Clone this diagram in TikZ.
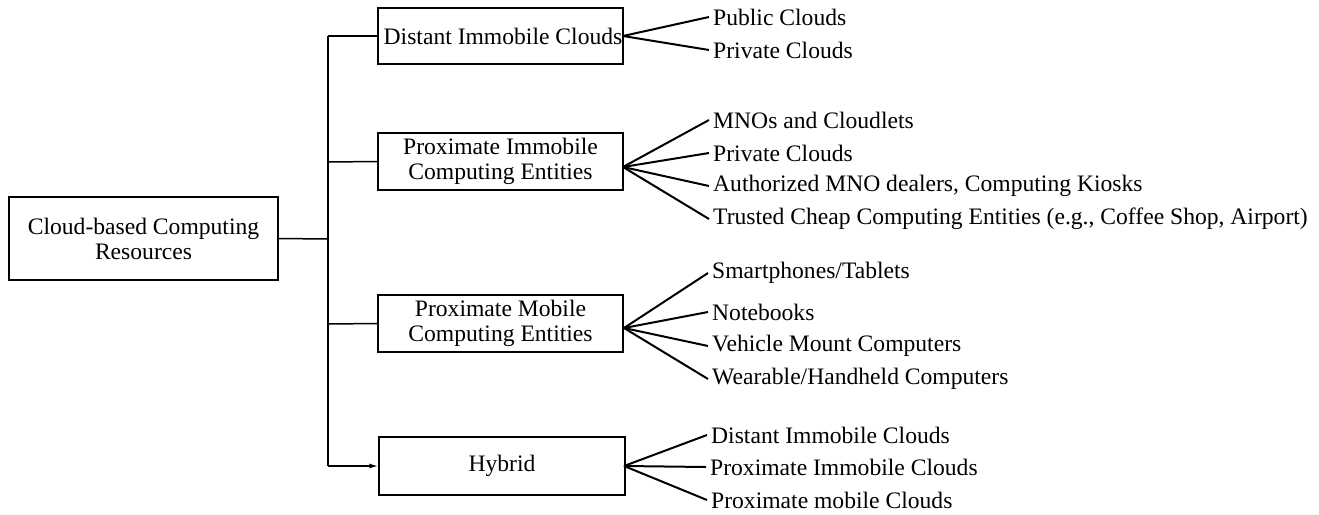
\documentclass[tikz,border=0pt]{standalone}
\usepackage{fontspec}
\setmainfont{Liberation Serif}
\usetikzlibrary{arrows.meta}
\begin{document}
\begin{tikzpicture}[x=1pt,y=-1pt,
  box/.style={draw,line width=1.3pt,align=center,inner sep=0pt,font=\fontsize{23.6}{25}\selectfont},
  leaf/.style={anchor=west,inner sep=0pt,font=\fontsize{23.6}{25}\selectfont},
  fan/.style={line width=2pt},
  trunk/.style={line width=1.5pt}]
\useasboundingbox (0,0) rectangle (1319,514);
\node[box,minimum width=269pt,minimum height=83pt] (root) at (143.5,238.5) {Cloud-based Computing\\Resources};
\node[box,minimum width=245pt,minimum height=56pt] (b1) at (500.5,36) {\hspace*{5pt}Distant Immobile Clouds};
\node[box,minimum width=245pt,minimum height=57pt] (b2) at (500.5,161.5) {Proximate Immobile\\Computing Entities};
\node[box,minimum width=245pt,minimum height=57pt] (b3) at (500.5,323.5) {Proximate Mobile\\Computing Entities};
\node[box,minimum width=246pt,minimum height=58pt] (b4) at (502,466) {Hybrid};
\coordinate (r) at (328,239);
\coordinate (t1) at (328,36);
\coordinate (t2) at (328,162);
\coordinate (t3) at (328,324);
\coordinate (t4) at (328,466);
\draw[trunk] (root.east) -- (r);
\draw[trunk] (t1) -- (t4);
\draw[trunk] (t1) -- (b1.west);
\draw[trunk] (t2) -- (b2.west);
\draw[trunk] (t3) -- (b3.west);
\draw[trunk,-{Latex[length=9pt,width=5pt]}] (t4) -- (b4.west);
% fan points
\coordinate (f1) at (623,36);
\coordinate (f2) at (623,167);
\coordinate (f3) at (624,328);
\coordinate (f4) at (624,466);
% leaves
\node[leaf] (l11) at (713,17) {Public Clouds};
\node[leaf] (l12) at (713,50) {Private Clouds};
\node[leaf] (l21) at (713,120) {MNOs and Cloudlets};
\node[leaf] (l22) at (713,153) {Private Clouds};
\node[leaf] (l23) at (713,186) {Authorized MNO dealers, Computing Kiosks};
\node[leaf] (l24) at (713,219) {Trusted Cheap Computing Entities (e.g., Coffee Shop, Airport)};
\node[leaf] (l31) at (712,273) {Smartphones/Tablets};
\node[leaf] (l32) at (712,312) {Notebooks};
\node[leaf] (l33) at (712,346) {Vehicle Mount Computers};
\node[leaf] (l34) at (712,379) {Wearable/Handheld Computers};
\node[leaf] (l41) at (711,435) {Distant Immobile Clouds};
\node[leaf] (l42) at (710,467) {Proximate Immobile Clouds};
\node[leaf] (l43) at (711,500) {Proximate mobile Clouds};
\foreach \f/\l in {f1/l11,f1/l12,f2/l21,f2/l22,f2/l23,f2/l24,f3/l31,f3/l32,f3/l33,f3/l34,f4/l41,f4/l42,f4/l43}
  \draw[fan] (\f) -- ([xshift=-4pt]\l.west);
\end{tikzpicture}
\end{document}
